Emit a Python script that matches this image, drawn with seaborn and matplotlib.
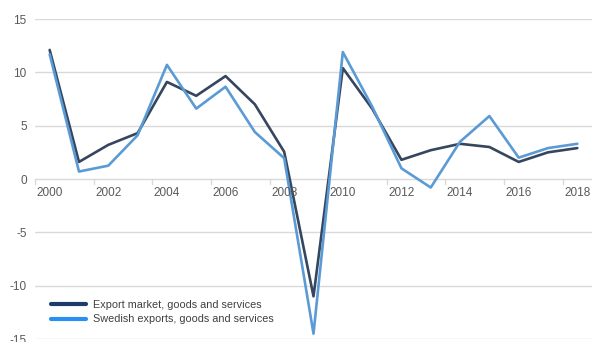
import matplotlib
matplotlib.use("Agg")
import matplotlib.pyplot as plt
import seaborn as sns
import pandas as pd
import numpy as np
from matplotlib.lines import Line2D

years = list(range(2000, 2019))
export_market = [12.1, 1.6, 3.2, 4.3, 9.1, 7.8, 9.65, 7.0, 2.55, -11.0, 10.4, 6.6, 1.8, 2.7, 3.3, 3.0, 1.6, 2.5, 2.9]
swedish_exports = [11.7, 0.7, 1.25, 4.1, 10.7, 6.6, 8.65, 4.4, 1.95, -14.5, 11.9, 6.8, 1.0, -0.8, 3.5, 5.9, 2.0, 2.9, 3.3]
series_names = ["Export market, goods and services", "Swedish exports, goods and services"]
line_colors = ["#35465e", "#5b9bd5"]
legend_colors = ["#1c3d6b", "#2b8ff0"]

df = pd.DataFrame({
    "idx": list(range(len(years))) * 2,
    "value": export_market + swedish_exports,
    "series": [series_names[0]] * len(years) + [series_names[1]] * len(years),
})

sns.set_style("white")
plt.rcParams["font.family"] = ["Liberation Sans", "DejaVu Sans"]
plt.rcParams["axes.unicode_minus"] = False

fig = plt.figure(figsize=(5.92, 3.42), dpi=100)
ax = fig.add_axes([35 / 592, 3 / 342, 1 - 35 / 592, 320 / 342])

sns.lineplot(data=df, x="idx", y="value", hue="series", palette=line_colors,
             linewidth=1.9, ax=ax, legend=False, zorder=3)

ax.set_xlim(-0.5, len(years) - 0.5)
ax.set_ylim(-15, 15)
ax.set_yticks([-15, -10, -5, 0, 5, 10, 15])
ax.set_yticklabels(["-15", "-10", "-5", "0", "5", "10", "15"])
ax.grid(axis="y", color="#d9d9d9", linewidth=1.0, zorder=0)
ax.grid(axis="x", visible=False)
for s in ax.spines.values():
    s.set_visible(False)

ax.set_xlabel("")
ax.set_ylabel("")
ax.tick_params(axis="y", length=0, labelsize=8.5, labelcolor="#595959", pad=6)

# x labels under zero line, ticks at category boundaries
ax.set_xticks([])
for i, y in enumerate(years):
    if y % 2 == 0:
        ax.text(i, -1.35, str(y), ha="center", va="center", fontsize=8.5, color="#595959")
for b in np.arange(-0.5, len(years), 2):
    ax.plot([b, b], [0, -0.45], color="#d9d9d9", linewidth=1.0, zorder=1, clip_on=False)

handles = [Line2D([0], [0], color=c, linewidth=3) for c in legend_colors]
ax.legend(handles, series_names, loc="lower left", bbox_to_anchor=(0.012, 0.015),
          frameon=False, fontsize=7.8, handlelength=3.2, handletextpad=0.6,
          labelspacing=0.45, labelcolor="#404040")

fig.savefig("out.png", dpi=100)
